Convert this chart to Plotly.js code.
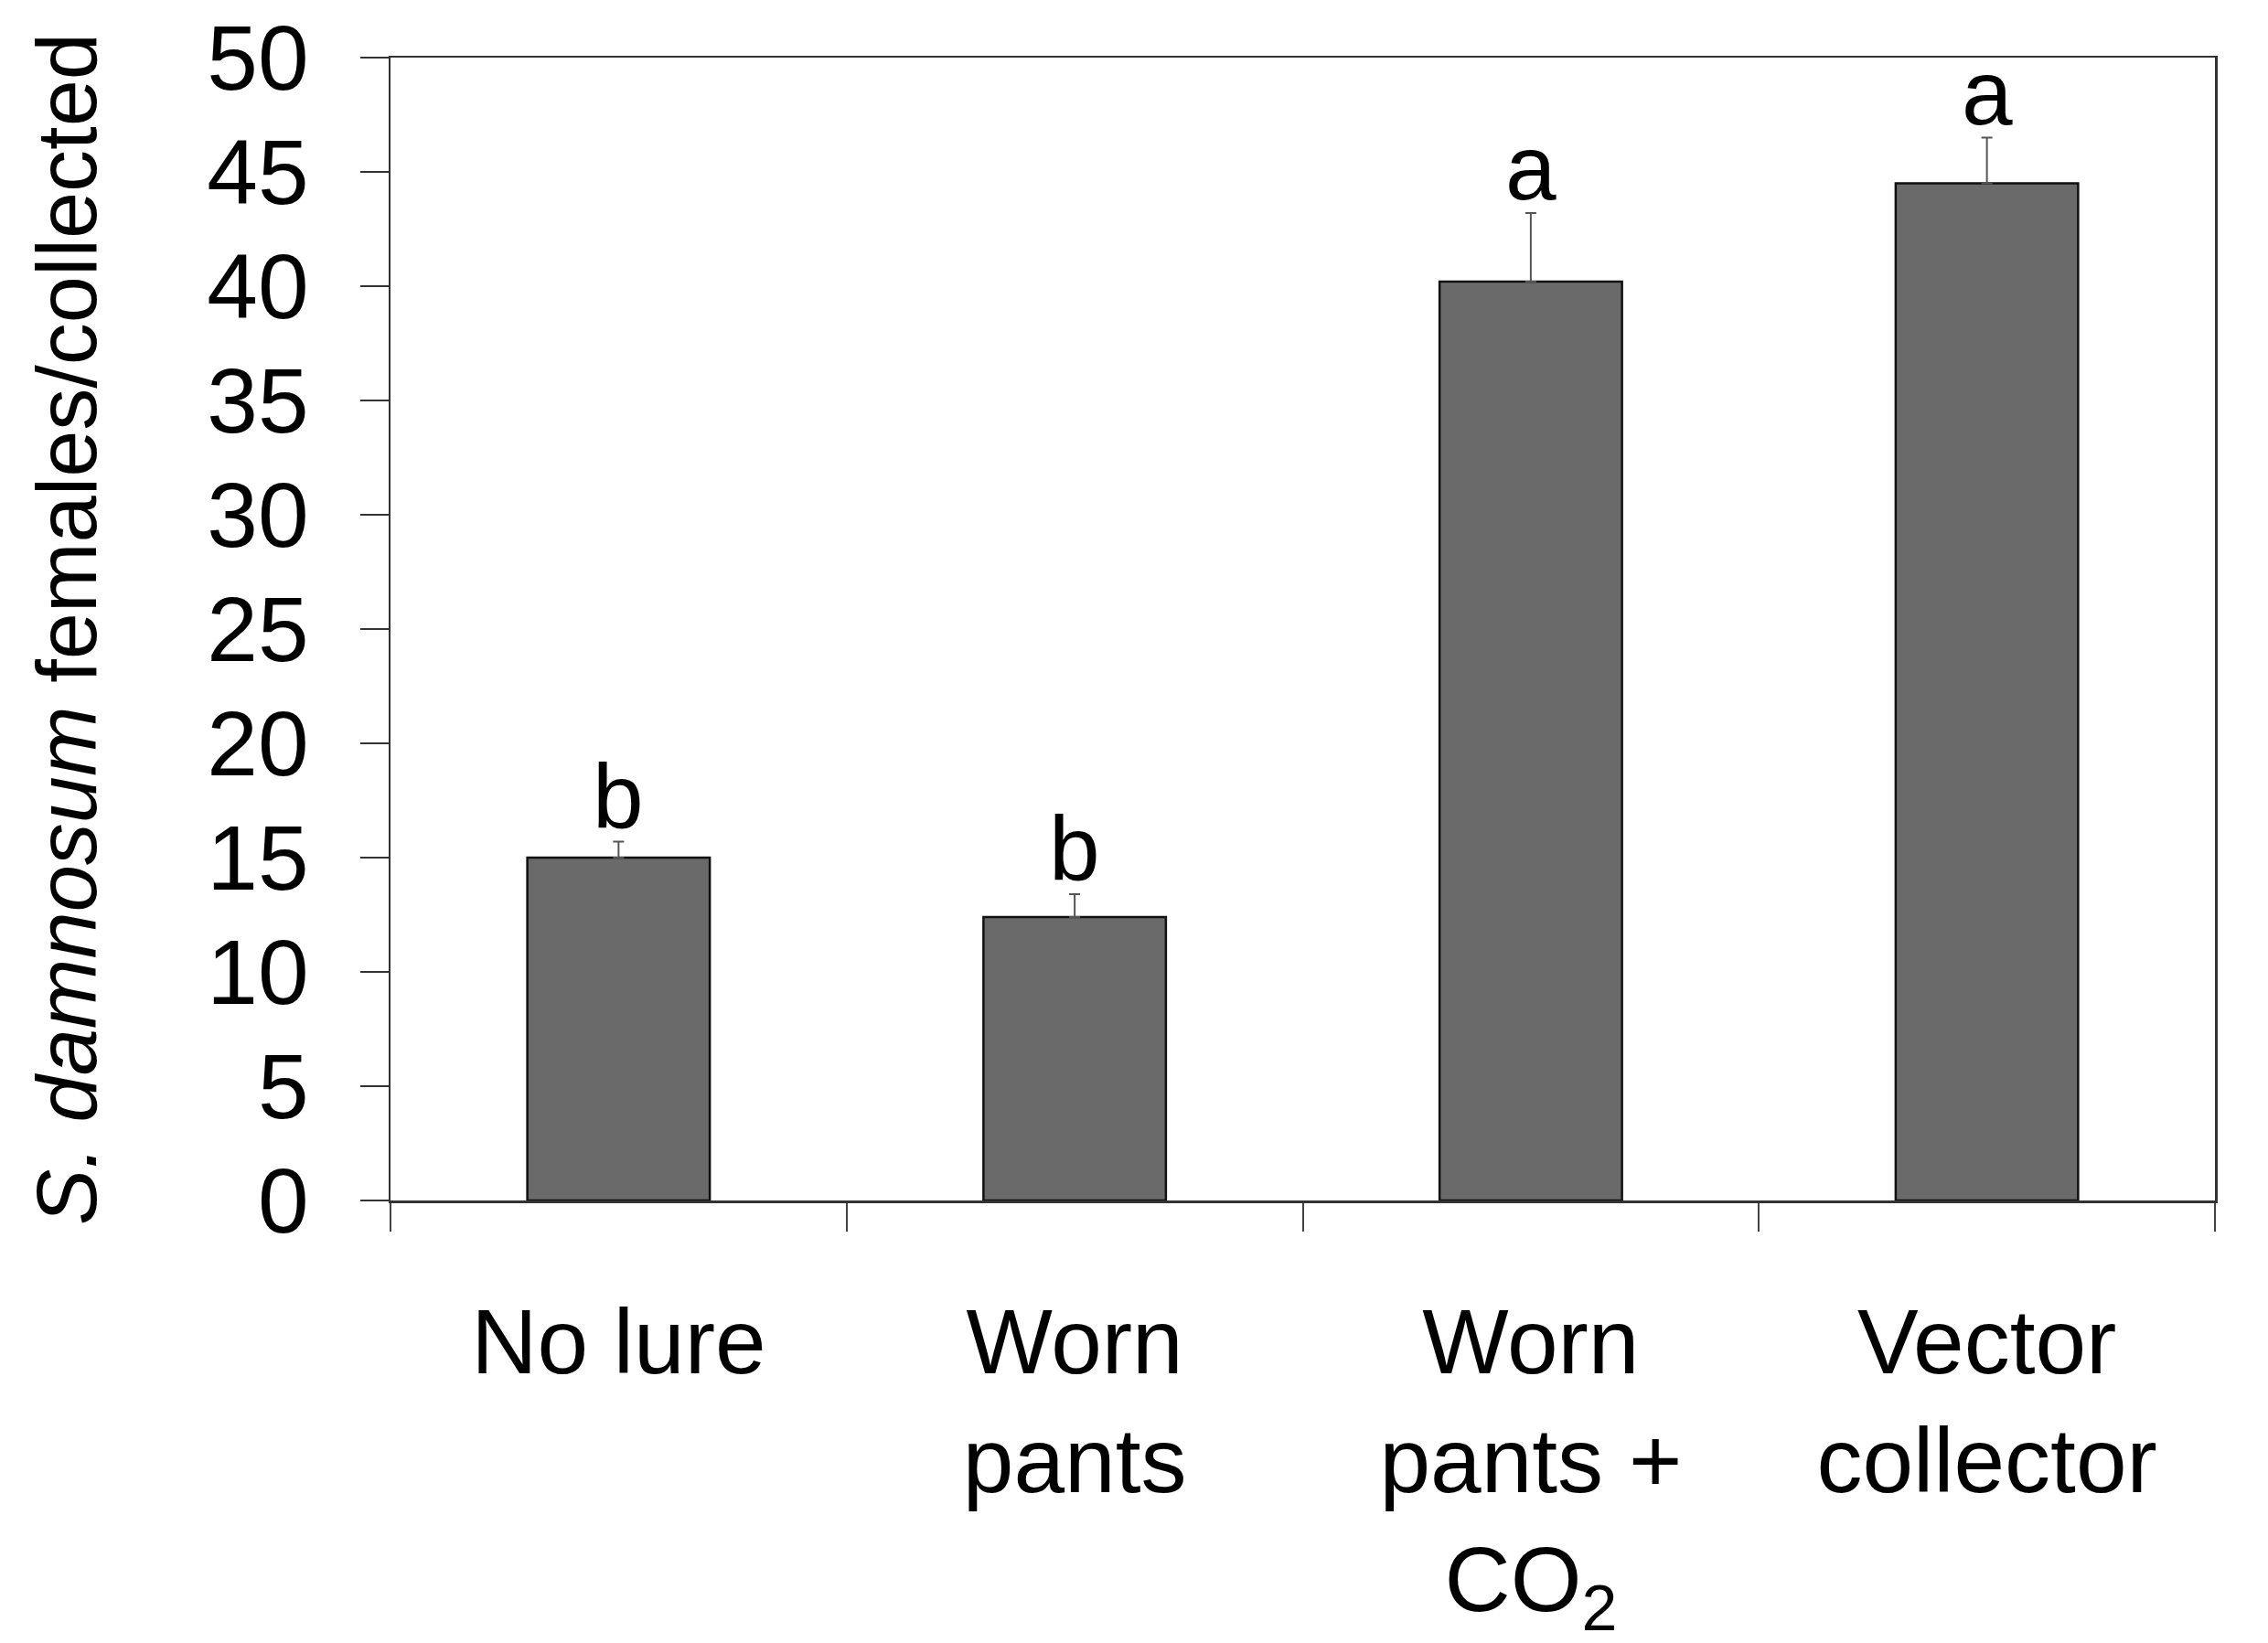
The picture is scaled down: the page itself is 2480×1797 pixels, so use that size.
<!DOCTYPE html>
<html>
<head>
<meta charset="utf-8">
<script src="https://cdn.plot.ly/plotly-3.0.1.min.js"></script>
<style>
  html, body { margin: 0; padding: 0; background: #ffffff; }
  #chart { width: 2480px; height: 1797px; }
</style>
</head>
<body>
<div id="chart"></div>
<script>
const categories = ["No lure", "Worn<br>pants", "Worn<br>pants +<br>CO<sub>2</sub>", "Vector<br>collector"];
const means = [15.0, 12.4, 40.2, 44.5];
const errors = [0.7, 1.0, 3.0, 2.0];
const letters = ["b", "b", "a", "a"];
const yTicks = [0, 5, 10, 15, 20, 25, 30, 35, 40, 45, 50];

const FONT = "Liberation Sans, Arial, sans-serif";

const trace = {
  type: "bar",
  x: categories,
  y: means,
  width: 0.4,
  marker: { color: "#6a6a6a", line: { color: "#111111", width: 2.5 } },
  error_y: {
    type: "data",
    symmetric: false,
    array: errors,
    arrayminus: errors.map(() => 0),
    color: "#555555",
    thickness: 2,
    width: 6
  },
  hoverinfo: "skip"
};

const annotations = categories.map((c, i) => ({
  x: c,
  y: means[i] + errors[i],
  xref: "x",
  yref: "y",
  text: letters[i],
  showarrow: false,
  yanchor: "bottom",
  yshift: -8,
  font: { family: FONT, size: 100, color: "#000000" }
}));

const layout = {
  width: 2480,
  height: 1797,
  paper_bgcolor: "#ffffff",
  plot_bgcolor: "#ffffff",
  margin: { l: 427, r: 58, t: 63, b: 484 },
  showlegend: false,
  font: { family: FONT, color: "#000000" },
  xaxis: {
    type: "category",
    range: [-0.5, 3.5],
    tickson: "boundaries",
    ticks: "outside",
    ticklen: 31,
    tickwidth: 2,
    tickcolor: "#444444",
    showline: true,
    linecolor: "#333333",
    linewidth: 2.5,
    mirror: true,
    showgrid: false,
    zeroline: false,
    tickfont: { family: FONT, size: 100, color: "#000000" },
    ticklabelstandoff: 66
  },
  yaxis: {
    range: [0, 50],
    tickvals: yTicks,
    ticktext: yTicks.map(String),
    ticks: "outside",
    ticklen: 31,
    tickwidth: 2.5,
    tickcolor: "#333333",
    showline: true,
    linecolor: "#333333",
    linewidth: 2.5,
    mirror: true,
    showgrid: false,
    zeroline: false,
    tickfont: { family: FONT, size: 100, color: "#000000" },
    ticklabelstandoff: 36,
    title: {
      text: "<i>S. damnosum</i> females/collected",
      font: { family: FONT, size: 92, color: "#000000" },
      standoff: 90
    }
  },
  annotations: annotations
};

Plotly.newPlot("chart", [trace], layout, { staticPlot: true, displayModeBar: false });
</script>
</body>
</html>
